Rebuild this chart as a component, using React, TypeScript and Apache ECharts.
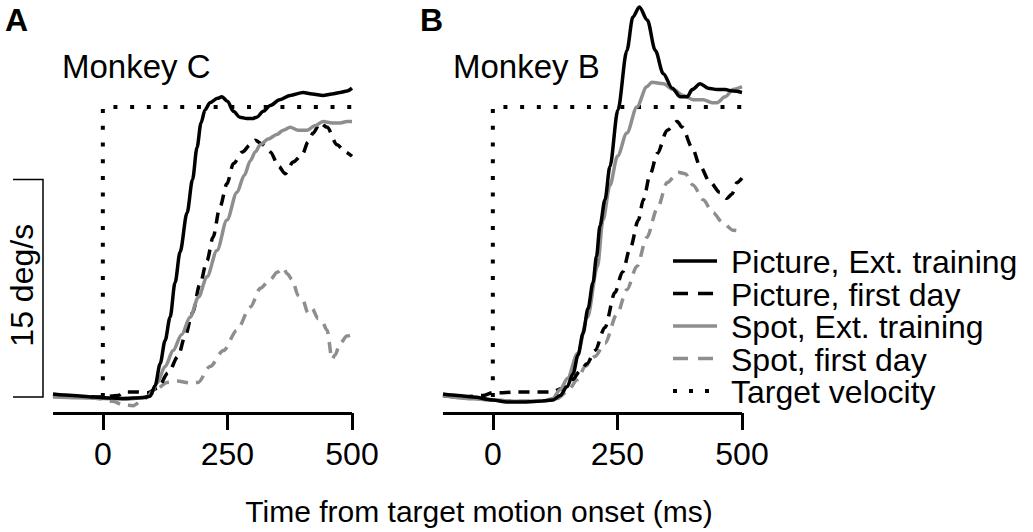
import React, { useEffect, useRef } from "react";
import * as echarts from "echarts";

// ---------- data ----------
const xTicks = [0, 250, 500];
const panelTitles = ["Monkey C", "Monkey B"];
const panelLetters = ["A", "B"];
const seriesNames = [
  "Picture, Ext. training",
  "Picture, first day",
  "Spot, Ext. training",
  "Spot, first day",
  "Target velocity",
];
const scaleBarValue = 15; // deg/s
const scaleBarLabel = "15 deg/s";
const xTitle = "Time from target motion onset (ms)";

const targetT = [0, 0, 500];
const targetV = [0, 20, 20];

// Monkey C (panel A)
const cPicExtT = [-100, -60, -20, 0, 40, 80, 95, 105, 115, 125, 135, 145, 155, 169, 180, 189, 197, 205, 215, 230, 239, 250, 262, 275, 289, 300, 309, 322, 336, 355, 376, 402, 420, 442, 460, 476, 490, 500];
const cPicExtV = [0.2, 0.1, 0.0, -0.05, -0.1, -0.05, 0.05, 0.8, 2.3, 3.9, 5.5, 7.9, 10.0, 12.7, 15.0, 17.2, 18.9, 19.8, 20.3, 20.6, 20.7, 20.4, 19.7, 19.3, 19.2, 19.2, 19.3, 19.7, 20.1, 20.5, 20.8, 21.0, 20.9, 20.8, 20.9, 21.0, 21.1, 21.3];

const cPicDayT = [-100, -50, 0, 30, 45, 70, 90, 110, 131, 151, 165, 180, 195, 209, 221, 235, 249, 262, 280, 296, 306, 322, 336, 353, 366, 382, 400, 412, 422, 436, 450, 470, 486, 500];
const cPicDayV = [0.1, 0.0, 0.0, 0.1, 0.35, 0.35, 0.3, 0.6, 1.65, 2.8, 4.2, 5.8, 7.8, 9.4, 11.0, 13.1, 14.7, 16.1, 16.9, 17.4, 17.7, 17.4, 16.9, 15.9, 15.4, 16.2, 16.7, 17.6, 18.2, 18.9, 18.6, 17.4, 16.9, 16.6];

const cSptExtT = [-100, -50, 0, 50, 89, 100, 109, 125, 141, 158, 175, 192, 209, 229, 249, 269, 284, 296, 306, 316, 332, 349, 362, 376, 392, 410, 425, 442, 460, 476, 490, 500];
const cSptExtV = [0.0, -0.05, -0.1, -0.15, 0.0, 0.4, 0.97, 2.1, 3.2, 4.3, 5.5, 6.9, 8.3, 10.1, 12.2, 14.1, 15.3, 16.3, 16.9, 17.4, 17.8, 18.1, 18.4, 18.6, 18.4, 18.4, 18.7, 19.0, 18.9, 18.9, 19.0, 19.0];

const cSptDayT = [-100, -50, -10, 20, 41, 61, 80, 100, 129, 149, 175, 191, 215, 242, 269, 296, 316, 336, 350, 362, 370, 380, 392, 400, 412, 420, 432, 440, 450, 460, 466, 476, 490, 500];
const cSptDayV = [0.1, 0.0, -0.1, -0.3, -0.55, -0.6, -0.2, 0.3, 1.0, 1.1, 0.97, 1.0, 2.1, 3.2, 4.6, 6.2, 7.5, 8.1, 8.6, 8.9, 8.5, 8.1, 7.0, 6.8, 5.8, 6.1, 5.4, 5.2, 4.6, 2.6, 2.9, 3.7, 4.2, 4.3];

// Monkey B (panel B)
const bPicExtT = [-100, -70, -40, 0, 28, 60, 90, 121, 135, 149, 161, 171, 181, 191, 201, 208, 215, 225, 235, 251, 269, 281, 294, 310, 326, 342, 360, 376, 390, 400, 416, 432, 450, 466, 482, 500];
const bPicExtV = [0.2, 0.1, 0.0, -0.2, -0.35, -0.35, -0.3, -0.2, 0.1, 0.7, 1.6, 2.9, 4.4, 6.1, 7.9, 9.7, 11.8, 13.6, 15.9, 19.8, 23.9, 26.2, 26.9, 26.0, 23.9, 22.3, 21.3, 20.7, 20.7, 21.2, 21.6, 21.3, 21.2, 21.2, 21.1, 21.0];

const bPicDayT = [-100, -60, -20, 0, 20, 50, 75, 100, 119, 140, 160, 175, 189, 205, 225, 245, 260, 276, 292, 302, 316, 330, 350, 370, 380, 400, 416, 436, 456, 470, 480, 490, 500];
const bPicDayV = [0.1, 0.0, 0.1, 0.3, 0.3, 0.35, 0.35, 0.35, 0.35, 0.6, 1.2, 1.8, 2.3, 3.2, 4.8, 7.2, 8.6, 10.3, 12.2, 13.6, 15.4, 16.8, 18.4, 19.0, 18.6, 17.2, 15.9, 14.8, 14.1, 13.7, 14.0, 14.8, 15.1];

const bSptExtT = [-100, -50, 0, 50, 100, 120, 135, 150, 170, 190, 210, 221, 235, 250, 269, 289, 309, 319, 342, 362, 382, 402, 422, 440, 450, 466, 482, 500];
const bSptExtV = [0.1, -0.1, -0.2, -0.3, -0.3, -0.1, 0.5, 1.3, 3.0, 5.5, 9.0, 12.2, 14.6, 16.6, 18.2, 20.0, 21.4, 21.7, 21.6, 21.2, 20.8, 20.5, 20.5, 20.3, 20.3, 20.7, 21.2, 21.4];

const bSptDayT = [-100, -50, 0, 50, 100, 130, 150, 170, 185, 205, 225, 249, 269, 289, 309, 330, 350, 372, 386, 402, 422, 442, 462, 482, 500];
const bSptDayV = [0.1, -0.1, -0.2, -0.3, -0.3, -0.1, 0.4, 1.2, 2.1, 2.8, 3.7, 5.7, 7.4, 9.0, 11.0, 13.0, 14.8, 15.5, 15.4, 14.6, 13.6, 12.7, 12.0, 11.5, 11.4];

// ---------- styles ----------
const BLACK = "#000000";
const GRAY = "#8e8e8e";
const FONT = "'Liberation Sans', Arial, Helvetica, sans-serif";
const seriesStyles = [
  { color: BLACK, dash: "solid" as any, legendDash: null as any },
  { color: BLACK, dash: [11, 8], legendDash: [15, 10] },
  { color: GRAY, dash: "solid" as any, legendDash: null as any },
  { color: GRAY, dash: [11, 8], legendDash: [15, 10] },
  { color: BLACK, dash: [4, 12.7], legendDash: [4, 12] },
];

const panels = [
  { data: [[cPicExtT, cPicExtV], [cPicDayT, cPicDayV], [cSptExtT, cSptExtV], [cSptDayT, cSptDayV]] },
  { data: [[bPicExtT, bPicExtV], [bPicDayT, bPicDayV], [bSptExtT, bSptExtV], [bSptDayT, bSptDayV]] },
];

const Y_MIN = -1;
const Y_MAX = 27;
const X_MIN = -100;
const X_MAX = 500;

function pairs(t: number[], v: number[]) {
  return t.map((x, i) => [x, v[i]]);
}

export default function App() {
  const ref = useRef<HTMLDivElement>(null);
  useEffect(() => {
    if (!ref.current) return;
    const chart = echarts.init(ref.current, null, { renderer: "svg" });

    const grids = [
      { left: 53, top: 5.5, width: 299, height: 406 },
      { left: 443, top: 5.5, width: 299, height: 406 },
    ];

    const xAxes = grids.map((_, i) => ({
      type: "value",
      gridIndex: i,
      min: X_MIN,
      max: X_MAX,
      offset: 1.5,
      axisLine: { show: true, onZero: false, lineStyle: { color: BLACK, width: 3, cap: "butt" } },
      axisTick: { show: true, length: 17, lineStyle: { color: BLACK, width: 3 }, customValues: xTicks },
      axisLabel: {
        show: true,
        customValues: xTicks,
        fontSize: 32,
        lineHeight: 32,
        margin: 25,
        color: BLACK,
        fontFamily: FONT,
      },
      splitLine: { show: false },
    }));

    const yAxes = grids.map((_, i) => ({
      type: "value",
      gridIndex: i,
      min: Y_MIN,
      max: Y_MAX,
      show: false,
      splitLine: { show: false },
    }));

    const series: any[] = [];
    panels.forEach((p, gi) => {
      series.push({
        type: "line",
        name: seriesNames[4],
        xAxisIndex: gi,
        yAxisIndex: gi,
        data: pairs(targetT, targetV),
        symbol: "none",
        silent: true,
        lineStyle: { color: BLACK, width: 4, type: seriesStyles[4].dash, cap: "butt" },
        z: 1,
      });
      // draw order: gray dashed, black dashed, gray solid, black solid
      const order = [3, 1, 2, 0];
      order.forEach((si, k) => {
        const [t, v] = p.data[si];
        series.push({
          type: "line",
          name: seriesNames[si],
          xAxisIndex: gi,
          yAxisIndex: gi,
          data: pairs(t, v),
          symbol: "none",
          smooth: 0.3,
          smoothMonotone: "x",
          silent: true,
          lineStyle: {
            color: seriesStyles[si].color,
            width: 3.5,
            type: seriesStyles[si].dash,
            cap: "butt",
          },
          z: 2 + k,
        });
      });
    });

    const graphics: any[] = [];
    // panel letters
    graphics.push({ type: "text", id: "letterA", x: 5, y: 20, style: { text: panelLetters[0], font: `bold 32px ${FONT}`, fill: BLACK, verticalAlign: "middle", align: "left" } });
    graphics.push({ type: "text", id: "letterB", x: 420, y: 20, style: { text: panelLetters[1], font: `bold 32px ${FONT}`, fill: BLACK, verticalAlign: "middle", align: "left" } });
    // panel titles
    graphics.push({ type: "text", id: "titleC", x: 62, y: 66, style: { text: panelTitles[0], font: `33px ${FONT}`, fill: BLACK, verticalAlign: "middle", align: "left" } });
    graphics.push({ type: "text", id: "titleB", x: 453, y: 66, style: { text: panelTitles[1], font: `33px ${FONT}`, fill: BLACK, verticalAlign: "middle", align: "left" } });
    // x title
    graphics.push({ type: "text", id: "xtitle", x: 479, y: 511, style: { text: xTitle, font: `30px ${FONT}`, fill: BLACK, verticalAlign: "middle", align: "center" } });
    // legend
    const legendY0 = 261;
    const legendStep = 32.5;
    seriesNames.forEach((name, i) => {
      const y = legendY0 + i * legendStep;
      const st = seriesStyles[i];
      graphics.push({
        type: "line",
        id: "legline" + i,
        shape: { x1: 673, y1: y, x2: 717, y2: y },
        style: {
          stroke: st.color,
          lineWidth: i === 4 ? 4 : 3.5,
          lineDash: st.legendDash || undefined,
          lineCap: "butt",
        },
      });
      graphics.push({
        type: "text",
        id: "legtext" + i,
        x: 731,
        y: y + 1,
        style: { text: name, font: `32px ${FONT}`, lineHeight: 30, fill: BLACK, verticalAlign: "middle", align: "left" },
      });
    });

    chart.setOption({
      animation: false,
      backgroundColor: "#ffffff",
      grid: grids,
      xAxis: xAxes,
      yAxis: yAxes,
      series,
      graphic: graphics,
    });

    // scale bar via axis conversion
    const p0 = chart.convertToPixel({ gridIndex: 0 }, [X_MIN, 0]) as number[];
    const p15 = chart.convertToPixel({ gridIndex: 0 }, [X_MIN, scaleBarValue]) as number[];
    const yTop = p15[1];
    const yBot = p0[1];
    chart.setOption({
      graphic: [
        ...graphics,
        {
          type: "polyline",
          id: "scalebar",
          shape: { points: [[13, yTop], [43, yTop], [43, yBot], [13, yBot]] },
          style: { stroke: BLACK, lineWidth: 1.5, fill: null },
        },
        {
          type: "text",
          id: "scalelabel",
          x: 22,
          y: (yTop + yBot) / 2 - 3,
          rotation: Math.PI / 2,
          style: { text: scaleBarLabel, font: `32px ${FONT}`, fill: BLACK, verticalAlign: "middle", align: "center" },
        },
      ],
    });

    return () => {
      chart.dispose();
    };
  }, []);

  return (
    <div
      ref={ref}
      style={{ position: "absolute", left: 0, top: 0, width: 1033, height: 532, background: "#fff" }}
    />
  );
}
